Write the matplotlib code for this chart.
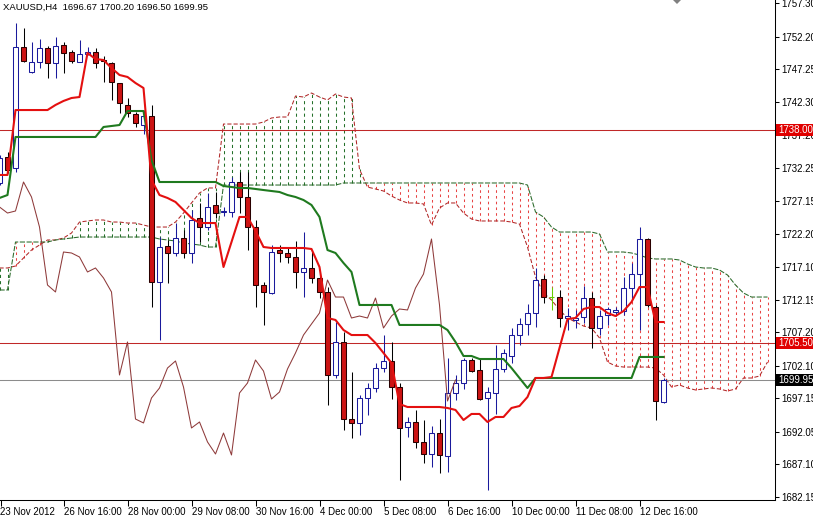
import numpy as np
import matplotlib
matplotlib.use("Agg")
import matplotlib.pyplot as plt
from matplotlib import transforms
from matplotlib.patches import Rectangle, Polygon

plt.rcParams['font.family'] = ['Liberation Sans', 'DejaVu Sans']

# ---------------- data (H4 bars, index 0 = 23 Nov 12:00) ----------------
first_bar = -1
opens = [1729.92, 1733.87, 1732.20, 1750.61, 1746.81, 1748.33, 1750.46, 1748.18, 1750.91, 1749.85,
         1748.33, 1749.54, 1749.85, 1748.63, 1748.18, 1745.13, 1741.79, 1740.42, 1738.74, 1740.11,
         1714.86, 1720.33, 1719.27, 1721.55, 1719.27, 1724.59, 1723.22, 1726.57, 1725.51, 1725.51,
         1730.07, 1727.79, 1723.22, 1714.40, 1713.18, 1719.72, 1719.27, 1718.66, 1716.38, 1716.99,
         1715.47, 1713.34, 1700.71, 1705.73, 1694.01, 1693.41, 1697.21, 1698.73, 1701.77, 1702.84,
         1698.88, 1692.80, 1693.56, 1690.52, 1688.69, 1691.88, 1688.38, 1697.97, 1699.49, 1702.99,
         1701.47, 1697.21, 1697.97, 1701.62, 1703.60, 1706.79, 1708.47, 1710.14, 1715.31, 1712.57,
         1712.57, 1709.38, 1709.08, 1709.53, 1712.42, 1707.86, 1709.84, 1710.29, 1710.44, 1713.94,
         1716.07, 1721.40, 1711.05, 1696.67]
highs = [1734.18, 1734.63, 1754.26, 1753.50, 1751.37, 1751.83, 1750.76, 1752.13, 1751.37, 1750.15,
         1751.67, 1750.61, 1750.46, 1749.24, 1748.33, 1745.20, 1742.85, 1740.72, 1741.02, 1741.79,
         1721.70, 1721.25, 1723.83, 1722.77, 1725.81, 1726.88, 1728.40, 1728.55, 1726.27, 1730.83,
         1731.59, 1731.59, 1724.29, 1714.86, 1720.48, 1720.48, 1720.18, 1721.09, 1722.46, 1719.72,
         1716.23, 1714.09, 1708.77, 1707.25, 1701.16, 1697.66, 1699.49, 1702.53, 1706.79, 1705.73,
         1699.49, 1694.32, 1695.39, 1693.86, 1692.95, 1694.01, 1703.29, 1700.71, 1703.29, 1703.29,
         1703.14, 1698.88, 1705.27, 1704.66, 1707.86, 1709.38, 1711.51, 1716.99, 1715.92, 1714.09,
         1713.64, 1710.90, 1710.60, 1714.25, 1713.34, 1710.60, 1711.05, 1711.05, 1715.62, 1717.75,
         1723.22, 1721.55, 1711.36, 1700.20]
lows = [1729.61, 1731.44, 1731.59, 1748.33, 1746.70, 1747.41, 1745.89, 1745.89, 1746.65, 1748.18,
        1748.30, 1749.39, 1747.41, 1745.28, 1742.55, 1740.57, 1739.96, 1738.44, 1737.37, 1711.05,
        1706.03, 1714.70, 1718.81, 1718.51, 1717.75, 1720.94, 1722.77, 1724.59, 1724.90, 1724.75,
        1725.35, 1719.72, 1711.05, 1708.32, 1713.10, 1717.90, 1717.75, 1713.94, 1712.57, 1714.70,
        1712.42, 1696.14, 1700.25, 1692.34, 1691.12, 1691.58, 1694.62, 1698.12, 1701.16, 1697.06,
        1684.73, 1691.27, 1689.60, 1687.32, 1686.71, 1685.80, 1685.95, 1696.90, 1698.58, 1701.20,
        1696.90, 1683.21, 1694.78, 1701.16, 1702.53, 1705.27, 1706.79, 1708.01, 1711.66, 1710.60,
        1708.01, 1707.55, 1707.86, 1708.62, 1704.82, 1706.79, 1708.32, 1709.68, 1709.84, 1712.12,
        1707.55, 1711.05, 1693.86, 1696.50]
closes = [1733.72, 1731.90, 1750.61, 1748.48, 1748.33, 1750.46, 1748.18, 1750.76, 1749.70, 1748.48,
          1749.54, 1749.85, 1748.18, 1748.48, 1745.28, 1742.09, 1740.57, 1739.05, 1740.11, 1714.86,
          1720.18, 1719.27, 1721.55, 1719.27, 1724.29, 1723.22, 1726.27, 1725.35, 1725.66, 1730.07,
          1727.79, 1723.22, 1714.40, 1713.34, 1719.42, 1719.27, 1718.66, 1716.38, 1716.99, 1715.47,
          1713.34, 1700.71, 1705.73, 1694.01, 1693.41, 1697.21, 1698.73, 1701.77, 1702.84, 1698.88,
          1692.65, 1693.56, 1690.52, 1688.69, 1691.88, 1688.54, 1697.97, 1699.49, 1702.99, 1701.31,
          1697.06, 1698.12, 1701.62, 1704.06, 1706.79, 1708.47, 1710.14, 1715.16, 1712.57, 1712.57,
          1709.38, 1709.68, 1709.38, 1712.42, 1707.86, 1709.68, 1710.75, 1710.60, 1713.94, 1716.07,
          1721.40, 1711.36, 1696.75, 1699.95]
tenkan = [1731.14, 1731.14, 1741.02, 1741.02, 1741.02, 1741.02, 1741.02, 1741.79, 1742.40, 1742.85,
          1743.00, 1749.70, 1748.78, 1748.63, 1747.41, 1746.35, 1746.05, 1745.13, 1744.37, 1730.37,
          1728.09, 1727.64, 1727.03, 1725.81, 1724.59, 1723.83, 1723.83, 1723.83, 1717.14, 1720.94,
          1724.75, 1724.75, 1722.62, 1720.18, 1720.03, 1720.03, 1720.03, 1720.03, 1720.03, 1719.88,
          1717.14, 1709.38, 1709.08, 1707.55, 1706.79, 1706.79, 1706.79, 1705.58, 1704.06, 1702.53,
          1696.29, 1695.84, 1695.84, 1695.84, 1695.84, 1695.84, 1695.69, 1695.39, 1693.86, 1694.78,
          1694.78, 1693.56, 1694.32, 1694.32, 1695.69, 1695.99, 1697.36, 1700.25, 1700.25, 1700.40,
          1704.82, 1709.23, 1709.38, 1710.75, 1711.05, 1711.05, 1710.14, 1709.68, 1710.44, 1711.81,
          1714.09, 1714.09, 1708.77, 1708.77]
kijun = [1727.64, 1728.09, 1736.92, 1736.92, 1736.92, 1736.92, 1736.92, 1736.92, 1736.92, 1736.92,
         1736.92, 1736.92, 1736.92, 1738.44, 1738.59, 1738.74, 1740.87, 1740.87, 1740.87, 1733.42,
         1730.07, 1730.07, 1730.07, 1730.07, 1730.07, 1730.07, 1730.07, 1730.07, 1729.46, 1729.31,
         1729.16, 1729.16, 1729.01, 1728.85, 1728.70, 1728.55, 1728.09, 1727.79, 1727.33, 1726.57,
         1724.75, 1719.72, 1719.27, 1717.75, 1716.38, 1711.36, 1711.36, 1711.36, 1711.36, 1711.36,
         1708.32, 1708.32, 1708.32, 1708.32, 1708.32, 1708.32, 1707.55, 1705.73, 1703.60, 1703.60,
         1703.14, 1703.14, 1703.14, 1703.14, 1701.77, 1700.25, 1698.73, 1700.25, 1700.25, 1700.25,
         1700.25, 1700.25, 1700.25, 1700.25, 1700.25, 1700.25, 1700.25, 1700.25, 1700.25, 1700.25,
         1703.45, 1703.45, 1703.45, 1703.45]
# Senkou spans (already displaced), bars -1 .. 95
span_a = [1716.99, 1716.99, 1717.29, 1718.51, 1719.72, 1720.48, 1721.25, 1721.25, 1721.55, 1722.31,
          1723.98, 1724.14, 1724.29, 1724.29, 1723.98, 1723.98, 1723.83, 1723.83, 1723.53, 1723.22,
          1723.22, 1723.22, 1723.98, 1725.35, 1726.88, 1728.40, 1729.16, 1729.16, 1738.89, 1738.89,
          1738.89, 1738.89, 1738.89, 1739.20, 1739.81, 1739.96, 1739.96, 1743.15, 1743.00, 1743.61,
          1743.00, 1742.55, 1743.46, 1743.00, 1742.85, 1732.00, 1729.30, 1729.01, 1728.70, 1727.94,
          1727.33, 1726.88, 1726.88, 1726.73, 1723.53, 1726.12, 1726.88, 1726.88, 1725.35, 1724.44,
          1724.14, 1724.14, 1724.14, 1724.14, 1723.98, 1723.68, 1720.18, 1715.62, 1713.18, 1712.12,
          1710.60, 1709.38, 1708.77, 1708.16, 1707.86, 1706.34, 1702.68, 1702.08, 1701.92, 1701.92,
          1701.92, 1701.92, 1701.77, 1700.71, 1698.88, 1699.19, 1698.73, 1698.43, 1698.58, 1698.73,
          1698.58, 1698.27, 1698.58, 1700.25, 1700.25, 1700.55, 1702.68]
span_b = [1713.64, 1713.64, 1720.94, 1720.94, 1720.94, 1720.94, 1720.94, 1721.25, 1721.40, 1721.55,
          1721.70, 1721.70, 1721.70, 1721.70, 1721.70, 1721.70, 1721.70, 1721.70, 1721.70, 1721.70,
          1721.40, 1721.25, 1721.09, 1720.79, 1720.64, 1720.48, 1720.18, 1720.18, 1729.61, 1729.61,
          1729.61, 1729.61, 1729.61, 1729.61, 1729.61, 1729.61, 1729.61, 1729.61, 1729.61, 1729.61,
          1729.61, 1729.61, 1729.61, 1729.92, 1729.92, 1729.92, 1729.92, 1729.92, 1729.92, 1729.92,
          1729.92, 1729.92, 1729.92, 1729.92, 1729.92, 1729.92, 1729.92, 1729.92, 1729.92, 1729.92,
          1729.92, 1729.92, 1729.92, 1729.92, 1729.92, 1729.92, 1729.61, 1725.51, 1724.75, 1723.22,
          1722.46, 1722.46, 1722.46, 1722.46, 1722.46, 1722.16, 1719.42, 1719.42, 1719.42, 1719.27,
          1718.96, 1718.51, 1718.36, 1718.36, 1718.36, 1718.20, 1717.60, 1717.14, 1716.99, 1716.99,
          1716.68, 1715.92, 1714.40, 1713.18, 1712.57, 1712.57, 1712.57]
chikou_shift = 26

date_tick_bars = [-0.875, 7, 15, 23, 31, 39, 47, 55, 63, 71, 79]
date_tick_labels = ["23 Nov 2012", "26 Nov 16:00", "28 Nov 00:00", "29 Nov 08:00", "30 Nov 16:00",
                    "4 Dec 00:00", "5 Dec 08:00", "6 Dec 16:00", "10 Dec 00:00", "11 Dec 08:00",
                    "12 Dec 16:00"]
price_ticks = [1757.30, 1752.20, 1747.25, 1742.30, 1737.20, 1732.25, 1727.15, 1722.20, 1717.10,
               1712.15, 1707.20, 1702.10, 1697.15, 1692.05, 1687.10, 1682.15]
levels = [1738.00, 1705.50]
bid = 1699.95
header = "XAUUSD,H4  1696.67 1700.20 1696.50 1699.95"

# ---------------- figure ----------------
W, H = 813, 517
fig = plt.figure(figsize=(W / 100, H / 100), dpi=100)
fig.patch.set_facecolor('white')
ax = fig.add_axes([0, 17 / H, 775 / W, 500 / H])
ax.set_xlim(-0.9375, 95.9375)
ax.set_ylim(1681.69, 1757.76)

bars = np.arange(len(opens)) + first_bar
sk = np.arange(len(span_a)) + first_bar
a = np.array(span_a)
b = np.array(span_b)
o = np.array(opens); h = np.array(highs); l = np.array(lows); c = np.array(closes)

lw1 = 0.75  # about one pixel

# Kumo hatch: green where span A is above span B, red otherwise
up = a >= b
ax.vlines(sk[up], b[up], a[up], colors=['#24702a'] * int(up.sum()),
          linestyles=[(0, (3, 3))], lw=lw1, zorder=1)
ax.vlines(sk[~up], a[~up], b[~up], colors=['#e84444'] * int((~up).sum()),
          linestyles=[(0, (2.5, 3))], lw=lw1, zorder=1)
ax.plot(sk, a, color='#b02828', lw=lw1, ls=(0, (4, 2)), zorder=2)
ax.plot(sk, b, color='#2a6a2a', lw=lw1, ls=(0, (5, 1.5)), zorder=2)

# horizontal levels
for lv in levels:
    ax.axhline(lv, color='#c02828', lw=lw1, zorder=2)
ax.axhline(bid, color='#8c8c8c', lw=lw1, zorder=2)

# candles
bull = c > o
bear = c < o
doji = c == o
ax.vlines(bars[bull], l[bull], h[bull], color='#1a1a9c', lw=lw1, zorder=3)
ax.vlines(bars[bear], l[bear], h[bear], color='#000000', lw=lw1, zorder=3)
ax.vlines(bars[doji], l[doji], h[doji], color='#66cc00', lw=lw1, zorder=3)
bw = 0.55
minh = 0.16
bot = np.minimum(o, c)
hgt = np.maximum(np.abs(c - o), minh)
ax.bar(bars[bull], hgt[bull], bottom=bot[bull], width=bw, color='white',
       edgecolor='#1a1a9c', linewidth=lw1, zorder=4)
ax.bar(bars[bear], hgt[bear], bottom=bot[bear], width=bw, color='#cc1414',
       edgecolor='#2a0000', linewidth=lw1, zorder=4)
ax.hlines(c[doji], bars[doji] - bw / 2, bars[doji] + bw / 2, color='#66cc00', lw=lw1, zorder=4)

# Ichimoku lines
ax.plot(bars - chikou_shift, c, color='#8e3a3a', lw=lw1, zorder=5)
ax.plot(bars, kijun, color='#1f7a1f', lw=1.5, zorder=6, solid_joinstyle='round')
ax.plot(bars, tenkan, color='#e41010', lw=1.5, zorder=6, solid_joinstyle='round')

# axes styling
for s in ['top', 'left']:
    ax.spines[s].set_visible(False)
for s in ['right', 'bottom']:
    ax.spines[s].set_linewidth(lw1)
    ax.spines[s].set_color('black')
ax.yaxis.tick_right()
ax.set_yticks(price_ticks)
ax.set_yticklabels([f"{v:.2f}" for v in price_ticks])
ax.tick_params(axis='y', direction='out', length=3, width=lw1, labelsize=7, pad=1.5, colors='black')
ax.set_xticks(date_tick_bars)
ax.set_xticklabels(date_tick_labels)
ax.tick_params(axis='x', direction='out', length=4, width=lw1, labelsize=7, pad=1)
for lbl in ax.get_xticklabels():
    lbl.set_ha('left')

# price tags on the axis
blend = transforms.blended_transform_factory(fig.transFigure, ax.transData)
tag_h = 12 * (1757.76 - 1681.69) / 500
for val, col in [(levels[0], '#e00000'), (levels[1], '#e00000'), (bid, '#000000')]:
    ax.add_patch(Rectangle((776 / W, val - tag_h / 2), 37 / W, tag_h, transform=blend,
                           facecolor=col, edgecolor='none', clip_on=False, zorder=20))
    ax.text(778 / W, val, f"{val:.2f}", transform=blend, color='white', fontsize=7,
            va='center', ha='left', clip_on=False, zorder=21)

# header and shift marker
fig.text(3 / W, 1 - 7 / H, header, fontsize=6.8, va='center', ha='left', color='black')
fig.add_artist(Polygon([(673 / W, 1), (681 / W, 1), (677 / W, 1 - 4 / H)], closed=True,
                       transform=fig.transFigure, facecolor='#808080', edgecolor='none'))

fig.savefig('out.png', dpi=100)
